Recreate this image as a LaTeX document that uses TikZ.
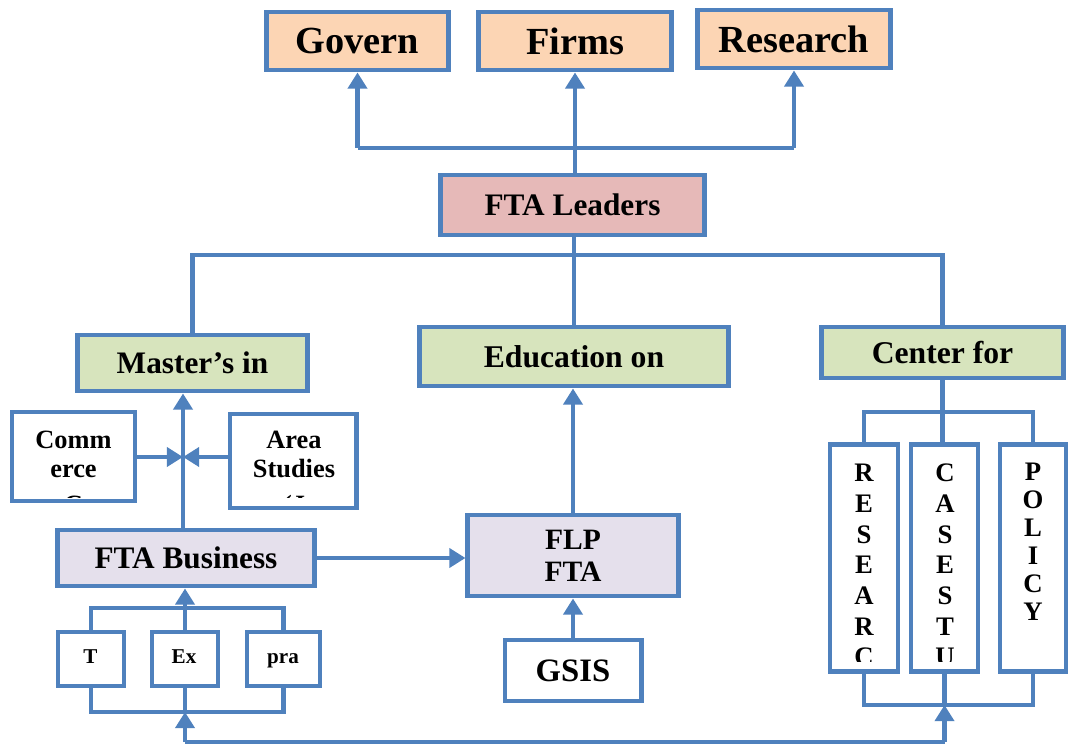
\documentclass[tikz,border=0pt]{standalone}
\usepackage{fontspec}
\setmainfont{Liberation Serif}
\usetikzlibrary{arrows.meta}

\definecolor{lineblue}{RGB}{79,129,189}
\definecolor{topfill}{RGB}{252,213,180}
\definecolor{leadfill}{RGB}{230,185,184}
\definecolor{greenfill}{RGB}{215,228,189}
\definecolor{lavfill}{RGB}{229,224,236}

\newcommand{\fsz}[1]{\bfseries\fontsize{#1}{#1}\selectfont}

\tikzset{
  box/.style={draw=lineblue, line width=1.4pt, inner sep=0pt, align=center},
  conn/.style={draw=lineblue, line width=1.4pt},
  arr/.style={conn, -{Triangle[width=5.4pt,length=4.6pt]}},
  lbl/.style={inner sep=0pt, font=\fsz{7.5}},
  vlet/.style={inner sep=0pt, font=\fsz{7.6}}
}

\begin{document}
\begin{tikzpicture}[x=0.01cm, y=-0.01cm]
    \fill[white] (0,0) rectangle (1070,746);
    \useasboundingbox (0,0) rectangle (1070,746);

    % Top row
    \node[box, fill=topfill, minimum width=1.81cm, minimum height=0.58cm, font=\fsz{10.9}] (gov) at (357.5,41) {\raisebox{-1.2pt}{Govern}};
    \node[box, fill=topfill, minimum width=1.92cm, minimum height=0.58cm, font=\fsz{10.9}] (firms) at (575,41) {\raisebox{-1.2pt}{Firms}};
    \node[box, fill=topfill, minimum width=1.92cm, minimum height=0.58cm, font=\fsz{10.9}] (res) at (794,39) {\raisebox{-1.2pt}{Research}};

    % Leaders
    \node[box, fill=leadfill, minimum width=2.63cm, minimum height=0.60cm, font=\fsz{8.9}] (lead) at (572.5,205) {FTA Leaders};

    % Second row
    \node[box, fill=greenfill, minimum width=2.29cm, minimum height=0.56cm, font=\fsz{8.9}] (mast) at (192.5,363) {Master’s in};
    \node[box, fill=greenfill, minimum width=3.08cm, minimum height=0.59cm, font=\fsz{9}] (edu) at (574,356.5) {Education on};
    \node[box, fill=greenfill, minimum width=2.41cm, minimum height=0.51cm, font=\fsz{9}] (cent) at (942.5,352.5) {Center for};

    % Side boxes
    \node[box, fill=white, minimum width=1.23cm, minimum height=0.89cm] (comm) at (73.5,456.5) {};
    \node[box, fill=white, minimum width=1.26cm, minimum height=0.94cm] (area) at (293,461) {};
    \begin{scope}
      \clip (12,412) rectangle (135,497);
      \node[lbl, anchor=base] (comm1) at (73.5,448) {Comm};
      \node[lbl, anchor=base] (comm2) at (73.5,477) {erce};
      \node[lbl, anchor=base] (comm3) at (73.5,513) {C};
    \end{scope}
    \begin{scope}
      \clip (230,414) rectangle (356,497);
      \node[lbl, anchor=base] (area1) at (294,448) {Area};
      \node[lbl, anchor=base] (area2) at (294,477) {Studies};
      \node[lbl, anchor=base] (area3) at (294,513) {(J};
    \end{scope}

    % Business and FLP
    \node[box, fill=lavfill, minimum width=2.56cm, minimum height=0.56cm, font=\fsz{8.9}] (biz) at (186,558) {FTA Business};
    \node[box, fill=lavfill, minimum width=2.10cm, minimum height=0.81cm, font=\bfseries\fontsize{8.4}{9.1}\selectfont] (flp) at (573,555.5) {FLP\\FTA};
    \node[box, fill=white, minimum width=1.36cm, minimum height=0.61cm, font=\fsz{9.3}] (gsis) at (573,670.5) {GSIS};

    % Small boxes
    \node[box, fill=white, minimum width=0.66cm, minimum height=0.54cm] (tb) at (91,659) {};
    \node[box, fill=white, minimum width=0.66cm, minimum height=0.54cm] (exb) at (185,659) {};
    \node[box, fill=white, minimum width=0.73cm, minimum height=0.54cm] (prb) at (283.5,659) {};
    \node[lbl, font=\fsz{6}, anchor=base] (tt) at (90.5,663) {T};
    \node[lbl, font=\fsz{6}, anchor=base] (ext) at (184,663) {Ex};
    \node[lbl, font=\fsz{6}, anchor=base] (prt) at (283,663) {pra};

    % Vertical boxes
    \node[box, fill=white, minimum width=0.68cm, minimum height=2.26cm] (rb) at (864,558) {};
    \node[box, fill=white, minimum width=0.67cm, minimum height=2.26cm] (cb) at (944.5,558) {};
    \node[box, fill=white, minimum width=0.66cm, minimum height=2.26cm] (pb) at (1033,558) {};
    \begin{scope}
      \clip (830,445) rectangle (980,661);
      \foreach \l [count=\i from 0] in {R,E,S,E,A,R,C}
        \node[vlet] (rl\i) at (864,473+30.7*\i) {\l};
      \foreach \l [count=\i from 0] in {C,A,S,E,S,T,U}
        \node[vlet] (cl\i) at (945,473+30.7*\i) {\l};
    \end{scope}
    \foreach \l [count=\i from 0] in {P,O,L,I,C,Y}
      \node[vlet] (pl\i) at (1033,472+28*\i) {\l};

    % Buses
    \coordinate (tbus) at (575,148);
    \coordinate (mbus) at (575,255);
    \coordinate (mid) at (183,457);
    \coordinate (sbt) at (185,608);
    \coordinate (sbb) at (185,712);
    \coordinate (rbt) at (945,412);
    \coordinate (rbb) at (945,705);
    \coordinate (lowl) at (185,742);

    % Leaders to top row
    \draw[arr] (firms.south |- lead.north) -- (firms.south);
    \draw[conn] (tbus -| gov.south) -- (tbus -| res.south);
    \draw[arr] (tbus -| gov.south) -- (gov.south);
    \draw[arr] (tbus -| res.south) -- (res.south);

    % Leaders to second row
    \draw[conn] (edu.north |- lead.south) -- (edu.north);
    \draw[conn] (mast.north) -- (mast.north |- mbus) -- (mbus -| cent.north) -- (cent.north);

    % Master's inputs
    \draw[arr] (mid |- biz.north) -- (mid |- mast.south);
    \draw[arr] (comm.east |- mid) -- (mid);
    \draw[arr] (area.west |- mid) -- (mid);

    % FLP
    \draw[arr] (biz.east) -- (flp.west |- biz.east);
    \draw[arr] (flp.north) -- (flp.north |- edu.south);
    \draw[arr] (gsis.north) -- (flp.south);

    % Small boxes
    \draw[conn] (tb.north) -- (tb.north |- sbt) -- (sbt -| prb.north) -- (prb.north);
    \draw[arr] (exb.north) -- (exb.north |- biz.south);
    \draw[conn] (tb.south) -- (tb.south |- sbb) -- (sbb -| prb.south) -- (prb.south);
    \draw[conn] (exb.south) -- (exb.south |- sbb);

    % Center for
    \draw[conn] (cent.south) -- (cent.south |- cb.north);
    \draw[conn] (rb.north) -- (rb.north |- rbt) -- (rbt -| pb.north) -- (pb.north);
    \draw[conn] (rb.south) -- (rb.south |- rbb) -- (rbb -| pb.south) -- (pb.south);
    \draw[conn] (cb.south) -- (cb.south |- rbb);

    % Bottom line
    \draw[conn] (exb.south |- lowl) -- (cb.south |- lowl);
    \draw[arr] (exb.south |- lowl) -- (exb.south |- sbb);
    \draw[arr] (cb.south |- lowl) -- (cb.south |- rbb);
\end{tikzpicture}
\end{document}
